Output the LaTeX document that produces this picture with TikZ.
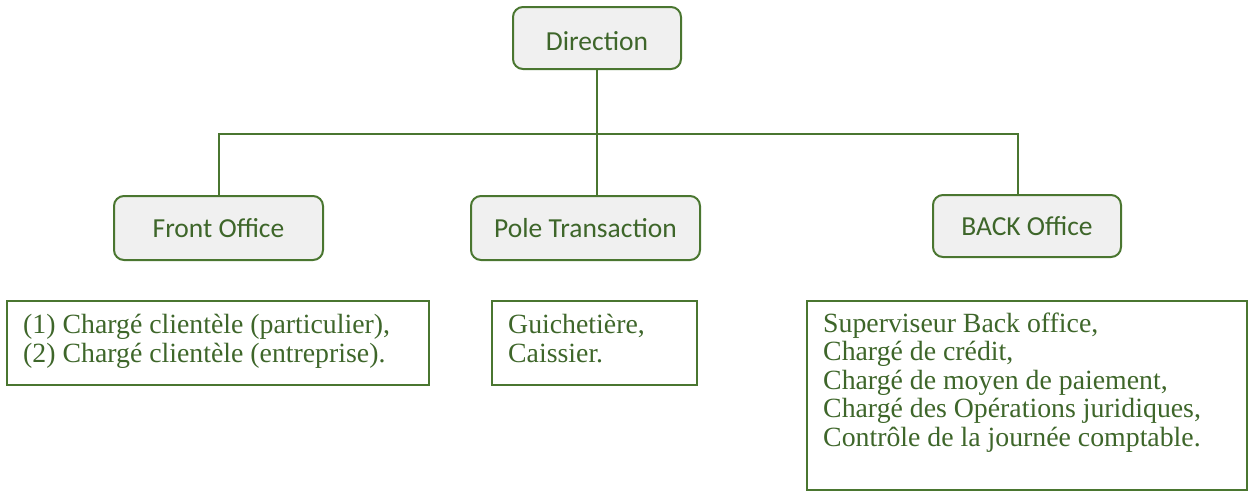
\documentclass[tikz,border=0pt]{standalone}
\usepackage{fontspec}
\setmainfont{Liberation Serif}
\newfontfamily\labelfont{Carlito}
\definecolor{txt}{RGB}{62,102,42}
\definecolor{bord}{RGB}{74,118,48}
\definecolor{boxfill}{RGB}{240,240,240}
\begin{document}
\begin{tikzpicture}[x=1pt,y=-1pt,
  unit/.style={draw=bord, line width=2pt, fill=boxfill, rounded corners=10pt,
    font=\labelfont\fontsize{27.5}{30}\selectfont, text=txt, inner sep=0pt},
  listbox/.style={draw=bord, line width=2pt, inner sep=0pt},
  listtext/.style={font=\fontsize{27.8}{28.5}\selectfont, text=txt, align=left,
    inner sep=0pt, anchor=base west},
  link/.style={draw=bord, line width=2pt}]
\useasboundingbox (0,0) rectangle (1256,496);
% unit boxes
\node[unit, minimum width=168pt, minimum height=62pt, text height=24pt, text depth=0pt] (dir) at (597,38) {Direction};
\node[unit, minimum width=209pt, minimum height=64pt] (fo) at (218.5,228) {Front Office};
\node[unit, minimum width=229pt, minimum height=64pt] (pt) at (585.5,228) {Pole Transaction};
\node[unit, minimum width=188pt, minimum height=62pt] (bo) at (1027,226) {BACK Office};
% connectors
\draw[link] (dir.south) -- ++(0,64) coordinate (j);
\draw[link] (fo.north) |- (j);
\draw[link] (j) -| ([xshift=-9pt]bo.north);
\draw[link] (j) -- (j |- pt.north);
% list boxes
\node[listbox, minimum width=422pt, minimum height=84pt] (fl) at (218,343) {};
\node[listbox, minimum width=205pt, minimum height=84pt] (pl) at (594.5,343) {};
\node[listbox, minimum width=440pt, minimum height=189pt] (bl) at (1027,395.5) {};
% text anchored at the baseline of its last line
\node[listtext] (flt) at (23,362) {(1) Chargé clientèle (particulier),\\(2) Chargé clientèle (entreprise).};
\node[listtext] (plt) at (508,362) {Guichetière,\\Caissier.};
\node[listtext] (blt) at (823,446) {Superviseur Back office,\\Chargé de crédit,\\Chargé de moyen de paiement,\\Chargé des Opérations juridiques,\\Contrôle de la journée comptable.};
\end{tikzpicture}
\end{document}
